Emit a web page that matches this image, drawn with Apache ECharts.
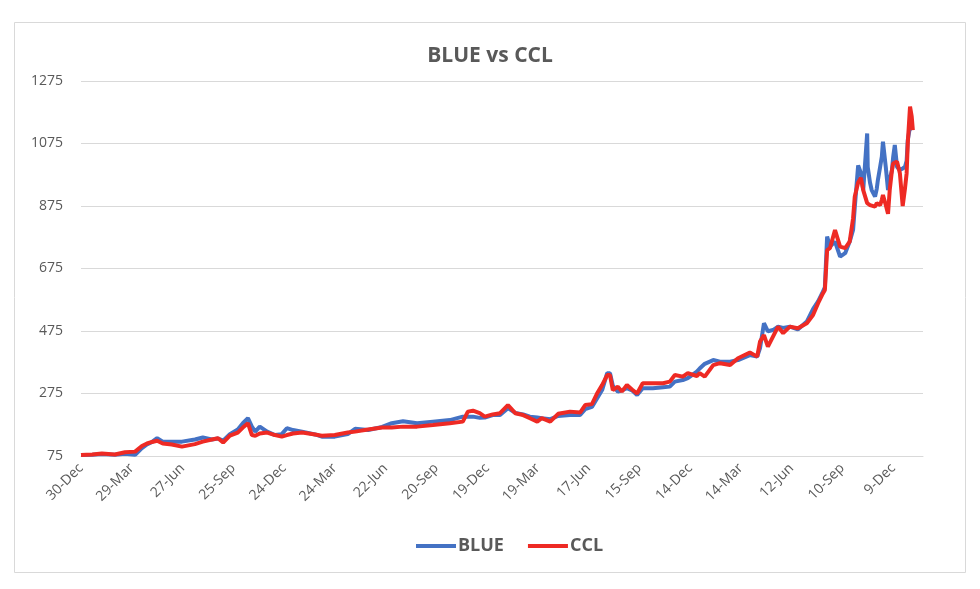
<!DOCTYPE html>
<html>
<head>
<meta charset="utf-8">
<script src="https://cdn.jsdelivr.net/npm/echarts@6/dist/echarts.min.js"></script>
<style>
  html, body { margin: 0; padding: 0; background: #fff; }
  #blue_ccl { width: 980px; height: 589px; }
</style>
</head>
<body>
<div id="blue_ccl"></div>
<script>
  // dias desde el 30-Dec-2019
  const days = [0, 20, 37, 60, 78, 96, 108, 117, 126, 135, 145, 161, 179, 202, 216, 232, 243, 252, 264, 278,
    287, 296, 303, 309, 317, 330, 344, 356, 365, 376, 392, 415, 427, 450, 473, 486, 509, 534, 551, 571,
    596, 624, 654, 677, 686, 695, 707, 716, 730, 743, 757, 770, 784, 796, 809, 817, 832, 846, 867, 885,
    894, 906, 915, 924, 933, 938, 943, 952, 959, 968, 977, 986, 996, 1014, 1032, 1044, 1053, 1067, 1076, 1092,
    1097, 1106, 1121, 1133, 1151, 1165, 1186, 1199, 1204, 1211, 1218, 1227, 1236, 1245, 1257, 1271, 1287, 1298, 1307, 1314,
    1319, 1323, 1328, 1337, 1346, 1355, 1363, 1369, 1372, 1378, 1383, 1387, 1394, 1395, 1399, 1402, 1408, 1411, 1413, 1417,
    1420, 1422, 1427, 1431, 1434, 1438, 1440, 1443, 1447, 1452, 1457, 1461, 1464, 1466, 1470, 1473, 1475];

  const blue = [78, 79, 81, 79, 82, 79, 100, 112, 120, 132, 121, 121, 121, 128, 134, 128, 131, 124, 145, 160,
    180, 196, 169, 153, 169, 153, 142, 145, 164, 158, 153, 144, 137, 137, 145, 162, 158, 168, 180, 186,
    180, 185, 190, 201, 201, 201, 197, 198, 206, 206, 228, 213, 208, 201, 198, 196, 193, 203, 206, 206,
    225, 232, 259, 286, 340, 340, 300, 281, 285, 292, 285, 270, 292, 292, 295, 297, 313, 318, 324, 345,
    355, 370, 382, 377, 377, 382, 398, 393, 420, 500, 474, 478, 489, 485, 489, 480, 505, 545, 570, 595,
    615, 777, 745, 761, 713, 724, 761, 798, 870, 1005, 980, 926, 1107, 1000, 950, 926, 905, 930, 958, 1000,
    1033, 1081, 1000, 926, 960, 990, 1030, 1070, 1000, 990, 995, 1000, 1020, 1086, 1129, 1124, 1120];

  const ccl = [78, 80, 83, 80, 87, 89, 107, 115, 120, 124, 115, 112, 105, 113, 121, 128, 132, 118, 140, 150,
    166, 180, 142, 140, 147, 150, 142, 137, 142, 147, 150, 144, 140, 142, 150, 153, 160, 166, 166, 169,
    169, 174, 180, 185, 217, 220, 212, 201, 208, 212, 238, 212, 206, 196, 185, 196, 185, 210, 217, 214,
    238, 241, 275, 302, 334, 334, 286, 297, 281, 302, 288, 275, 308, 308, 308, 313, 334, 329, 340, 331,
    340, 329, 366, 372, 366, 388, 406, 393, 441, 462, 425, 457, 489, 468, 489, 484, 500, 526, 564, 590,
    606, 734, 740, 798, 745, 740, 761, 835, 905, 950, 965, 926, 884, 880, 878, 875, 873, 884, 880, 878,
    895, 910, 878, 850, 926, 990, 1011, 1015, 1017, 980, 875, 930, 980, 1076, 1193, 1161, 1118];

  const yTicks = [75, 275, 475, 675, 875, 1075, 1275];
  const months = ['Jan', 'Feb', 'Mar', 'Apr', 'May', 'Jun', 'Jul', 'Aug', 'Sep', 'Oct', 'Nov', 'Dec'];
  const start = Date.UTC(2019, 11, 30);

  function dayLabel (v) {
    if (v % 90 !== 0) return '';
    const d = new Date(start + v * 86400000);
    return d.getUTCDate() + '-' + months[d.getUTCMonth()];
  }

  const toPairs = arr => arr.map((v, i) => [days[i], v]);

  const option = {
    animation: false,
    backgroundColor: '#fff',
    textStyle: { fontFamily: 'Open Sans' },
    graphic: [{
      type: 'rect',
      shape: { x: 14.5, y: 22.5, width: 951, height: 550 },
      style: { fill: 'none', stroke: '#d9d9d9', lineWidth: 1 },
      silent: true
    }],
    title: {
      text: 'BLUE vs CCL',
      left: 'center',
      top: 41,
      textStyle: { color: '#595959', fontSize: 21, fontWeight: 'bold', fontFamily: 'Open Sans' }
    },
    legend: {
      bottom: 29,
      left: 411,
      icon: 'rect',
      itemWidth: 40,
      itemHeight: 4,
      itemGap: 24,
      textStyle: { color: '#595959', fontSize: 18, fontWeight: 'bold', fontFamily: 'Open Sans', padding: [0, 0, 0, -3] },
      data: ['BLUE', 'CCL']
    },
    grid: { left: 81, right: 57, top: 81, bottom: 133 },
    xAxis: {
      type: 'value',
      min: 0,
      max: 1493,
      interval: 90,
      splitLine: { show: false },
      axisTick: { show: false },
      axisLine: { lineStyle: { color: '#d9d9d9', width: 1 } },
      axisLabel: {
        rotate: 45,
        margin: 10,
        color: '#595959',
        fontSize: 14,
        showMaxLabel: false,
        formatter: dayLabel
      }
    },
    yAxis: {
      type: 'value',
      min: yTicks[0],
      max: yTicks[yTicks.length - 1],
      interval: 200,
      axisLine: { show: false },
      axisTick: { show: false },
      splitLine: { lineStyle: { color: '#d9d9d9', width: 1 } },
      axisLabel: { color: '#595959', fontSize: 14, margin: 18, formatter: v => String(v) }
    },
    series: [
      {
        name: 'BLUE',
        type: 'line',
        showSymbol: false,
        color: '#4472c4',
        lineStyle: { width: 4, color: '#4472c4' },
        data: toPairs(blue)
      },
      {
        name: 'CCL',
        type: 'line',
        showSymbol: false,
        color: '#ee2a24',
        lineStyle: { width: 4, color: '#ee2a24' },
        data: toPairs(ccl)
      }
    ]
  };

  const chart = echarts.init(document.getElementById('blue_ccl'));
  chart.setOption(option);
  window.addEventListener('resize', function () {
    chart.resize();
  });
</script>
</body>
</html>
